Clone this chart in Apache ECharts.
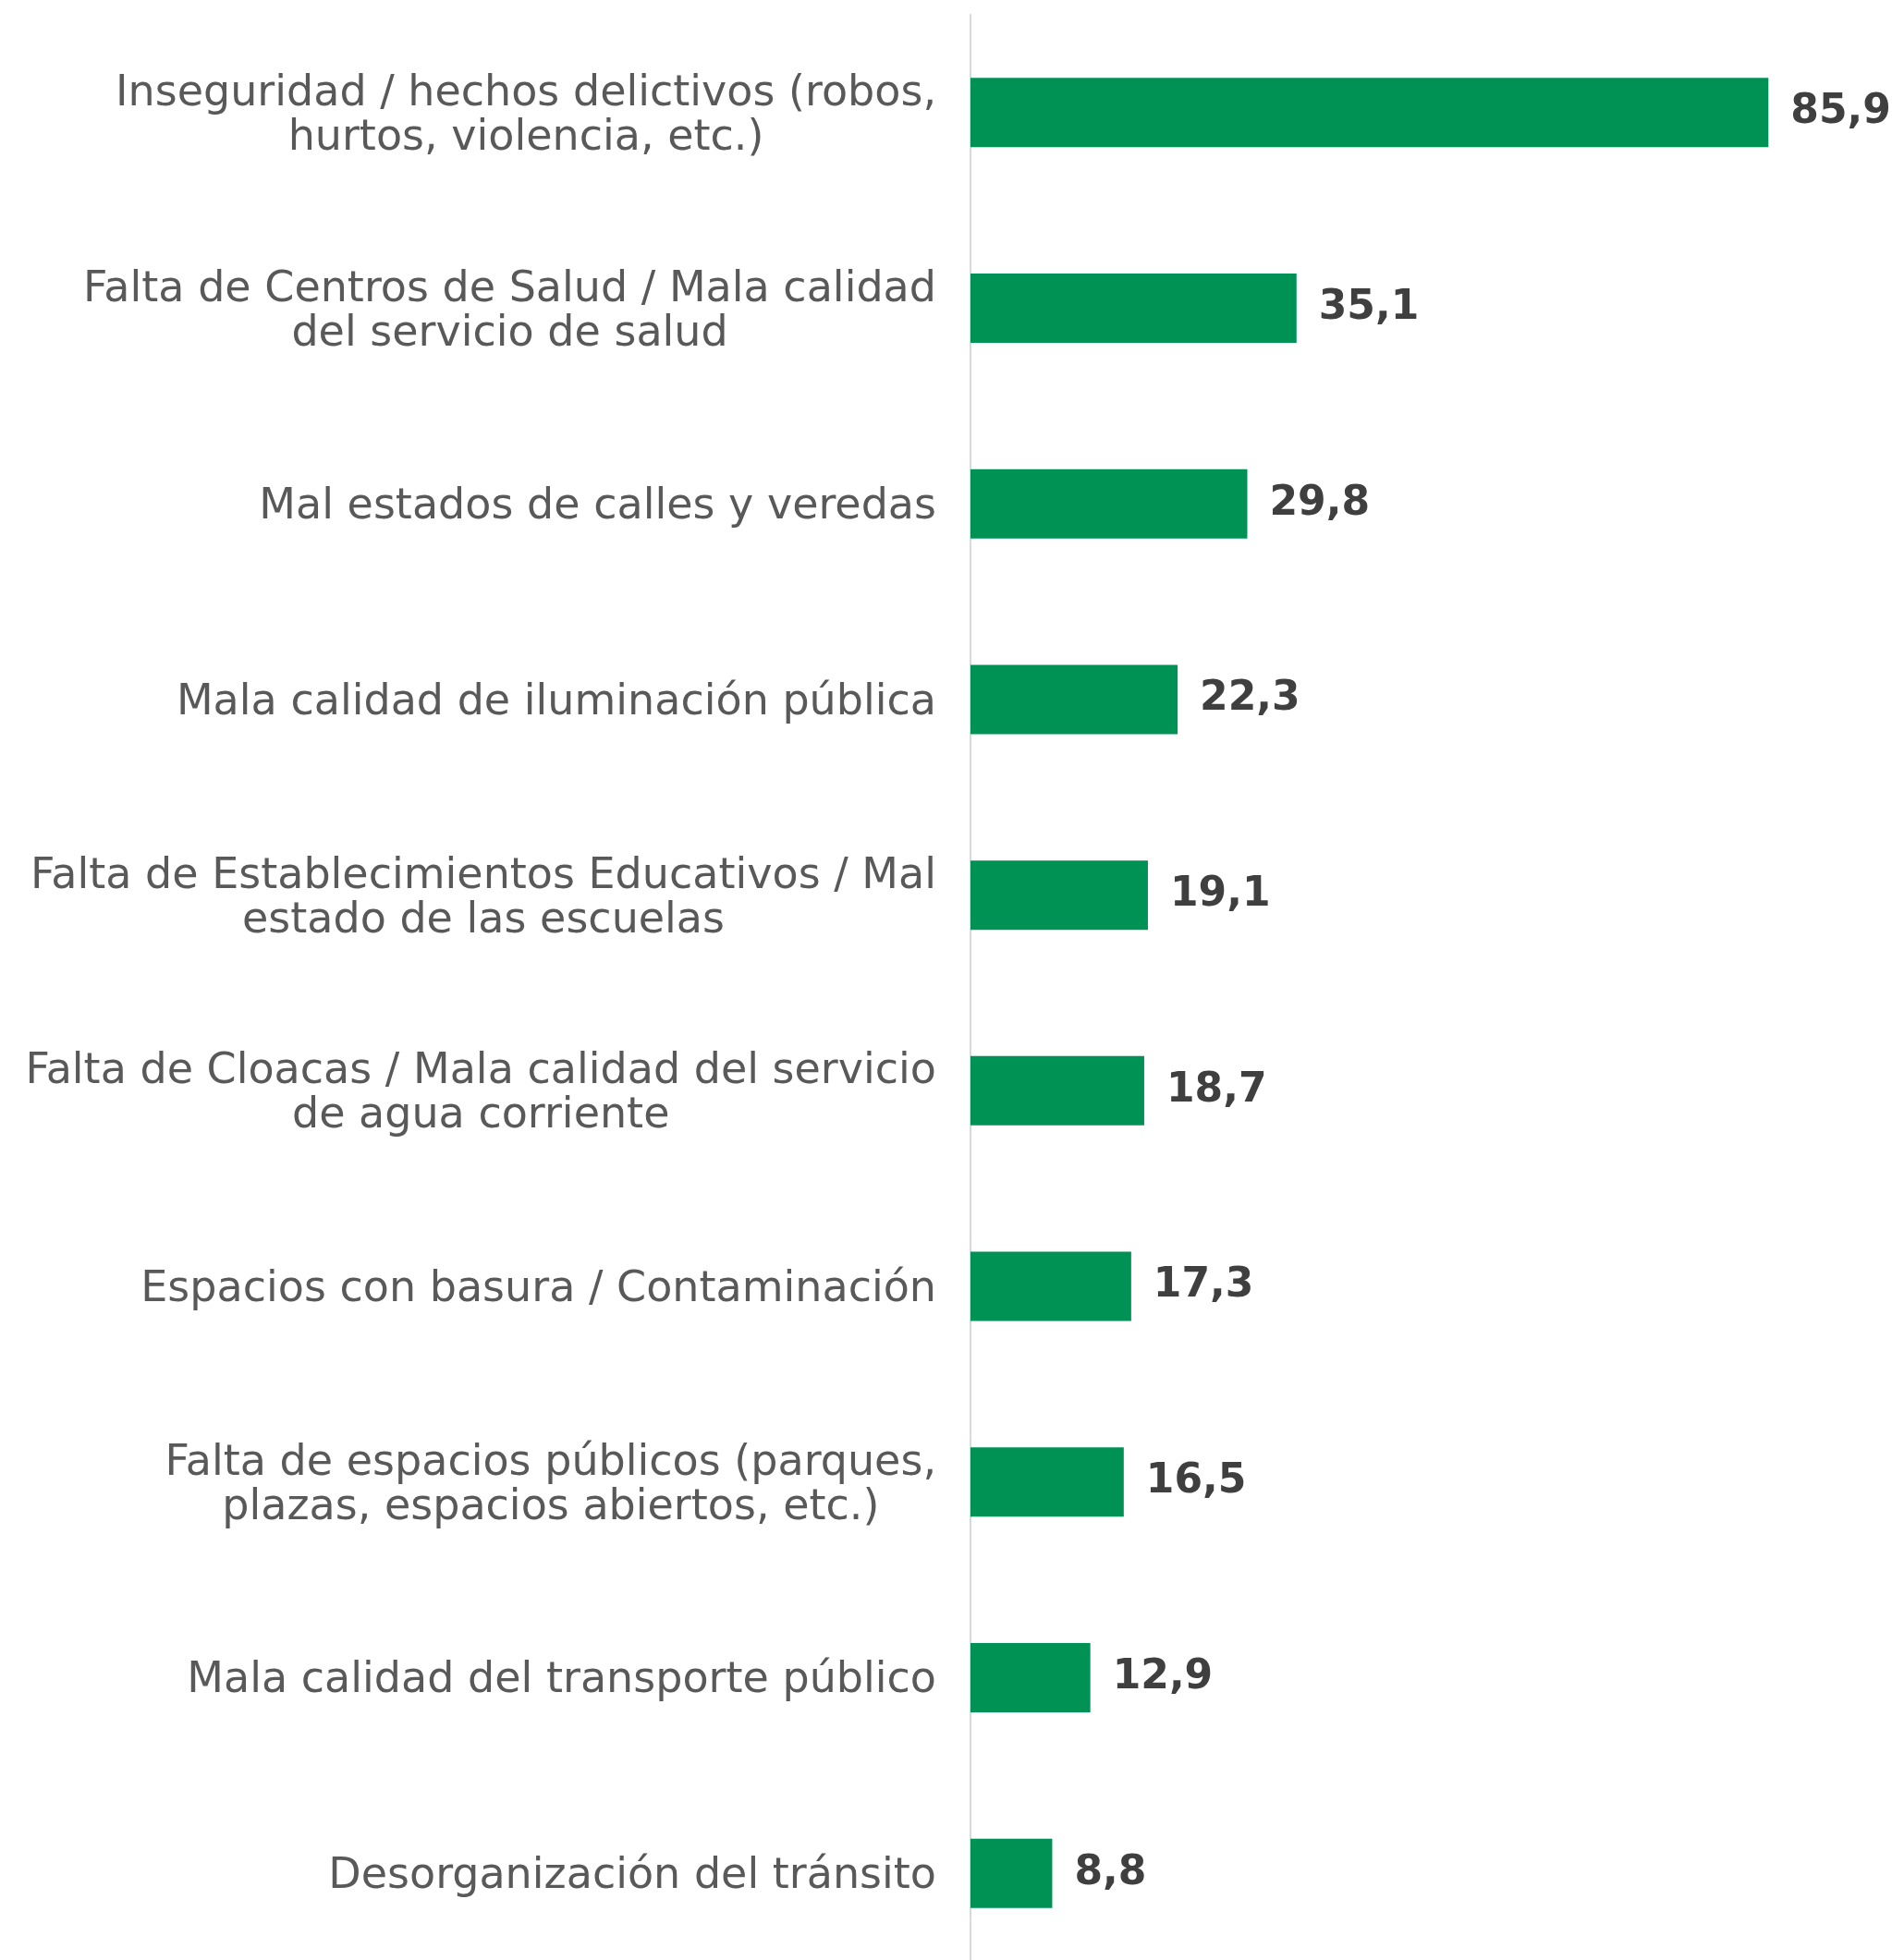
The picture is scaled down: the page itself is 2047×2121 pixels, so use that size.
<!DOCTYPE html>
<html><head><meta charset="utf-8">
<script src="https://cdn.jsdelivr.net/npm/echarts@6/dist/echarts.min.js"></script>
<style>html,body{margin:0;padding:0;background:#fff}#c{width:2047px;height:2121px}</style>
</head><body><div id="c"></div>
<script>
const categories = [
  "Inseguridad / hechos delictivos (robos,\nhurtos, violencia, etc.)",
  "Falta de Centros de Salud / Mala calidad\ndel servicio de salud",
  "Mal estados de calles y veredas",
  "Mala calidad de iluminación pública",
  "Falta de Establecimientos Educativos / Mal\nestado de las escuelas",
  "Falta de Cloacas / Mala calidad del servicio\nde agua corriente",
  "Espacios con basura / Contaminación",
  "Falta de espacios públicos (parques,\nplazas, espacios abiertos, etc.)",
  "Mala calidad del transporte público",
  "Desorganización del tránsito"
];
const values = [85.9, 35.1, 29.8, 22.3, 19.1, 18.7, 17.3, 16.5, 12.9, 8.8];

const labelFont = {fontSize:46, lineHeight:48, color:'#595959', fontFamily:'DejaVu Sans'};
const chart = echarts.init(document.getElementById('c'), null, {renderer:'canvas'});
chart.setOption({
  animation:false,
  grid:{left:1050, top:16, width:1005, height:2117, containLabel:false, outerBoundsMode:'none'},
  xAxis:{type:'value', min:0, max:100, show:false},
  yAxis:{type:'category', inverse:true, data:categories,
    axisLine:{show:true, lineStyle:{color:'#d9d9d9', width:2}},
    axisTick:{show:false},
    axisLabel:Object.assign({margin:37, align:'right', padding:[8,0,0,0],
      formatter:v=>v.split('\n').map(l=>'{c|'+l+'}').join('\n'),
      rich:{c:Object.assign({align:'center'}, labelFont)}
    }, labelFont)
  },
  series:[{type:'bar', data:values, barWidth:75,
    itemStyle:{color:'#009155'},
    label:{show:true, position:'right', distance:24, padding:[12,0,0,0], fontSize:44, fontWeight:'bold', color:'#3f3f3f', fontFamily:'DejaVu Sans',
      formatter:p=>p.value.toFixed(1).replace('.',',')}
  }]
});
</script></body></html>
